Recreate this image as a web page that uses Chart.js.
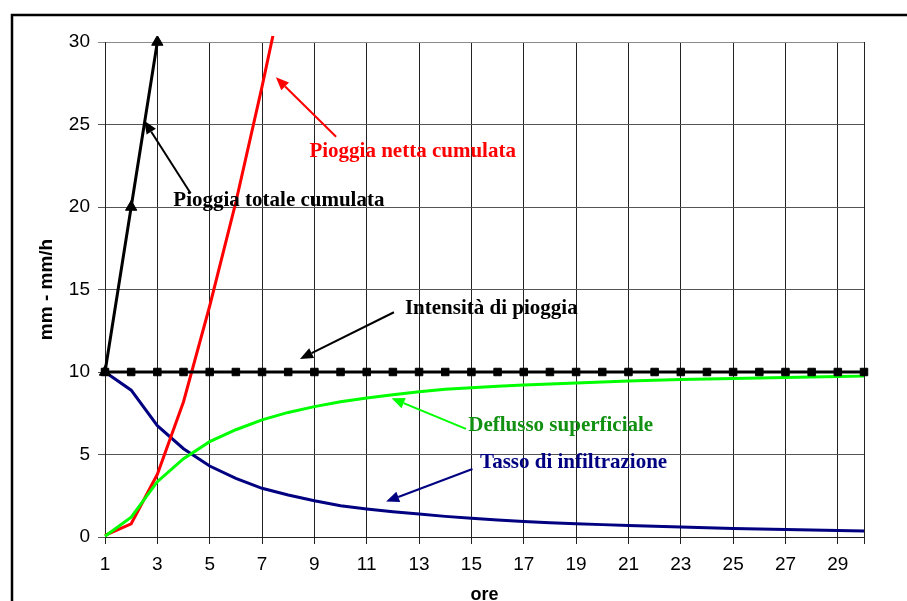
<!DOCTYPE html>
<html>
<head>
<meta charset="utf-8">
<script src="https://cdn.jsdelivr.net/npm/chart.js@4.4.1/dist/chart.umd.min.js"></script>
<style>
  html, body { margin:0; padding:0; background:#fff; }
  #wrap { width:907px; height:601px; overflow:hidden; }
</style>
</head>
<body>
<div id="wrap"><canvas id="chart" width="907" height="601"></canvas></div>
<script>
// ore (x categories)
const hours = ['1','2','3','4','5','6','7','8','9','10','11','12','13','14','15',
               '16','17','18','19','20','21','22','23','24','25','26','27','28','29','30'];

// mm/h
const intensita = [10,10,10,10,10,10,10,10,10,10,10,10,10,10,10,
                   10,10,10,10,10,10,10,10,10,10,10,10,10,10,10];
const infiltrazione = [10, 8.9, 6.75, 5.35, 4.3, 3.55, 2.95, 2.55, 2.2, 1.9,
                       1.7, 1.53, 1.39, 1.25, 1.13, 1.03, 0.94, 0.87, 0.81, 0.75,
                       0.69, 0.65, 0.6, 0.56, 0.52, 0.49, 0.46, 0.43, 0.4, 0.37];
const deflusso = [0.05, 1.2, 3.35, 4.75, 5.78, 6.5, 7.1, 7.55, 7.9, 8.2,
                  8.43, 8.62, 8.8, 8.95, 9.05, 9.14, 9.21, 9.28, 9.34, 9.4,
                  9.45, 9.5, 9.54, 9.57, 9.6, 9.64, 9.67, 9.7, 9.72, 9.75];
// mm
const pioggiaTotale = [10, 20, 30];
const pioggiaNetta = [0.1, 0.8, 3.8, 8.2, 14.0, 20.3, 27.3, 34.7];

// annotation labels: text + arrow, positions in (category index, value)
const notes = [
  { text:'Pioggia totale cumulata', color:'#000', arrow:'#000', at:[2.61, 20.06], from:[3.27, 20.83], to:[1.50, 25.23] },
  { text:'Pioggia netta cumulata', color:'#ff0000', arrow:'#ff0000', at:[7.81, 23.05], from:[8.83, 24.26], to:[6.53, 27.86] },
  { text:'Intensità di pioggia', color:'#000', arrow:'#000', at:[11.46, 13.5], from:[11.04, 13.62], to:[7.45, 10.79] },
  { text:'Deflusso superficiale', color:'#129012', arrow:'#00ff00', at:[13.88, 6.44], from:[13.79, 6.55], to:[10.95, 8.41] },
  { text:'Tasso di infiltrazione', color:'#000080', arrow:'#000080', at:[14.33, 4.16], from:[14.04, 4.12], to:[10.74, 2.15] }
];

const frame = {
  id:'frame',
  beforeDraw(chart){
    const c = chart.ctx;
    c.save();
    c.fillStyle = '#fff';
    c.fillRect(0, 0, chart.width, chart.height);
    c.strokeStyle = '#000'; c.lineWidth = 2.5;
    c.strokeRect(12, 15, 1200, 1200);
    c.restore();
  }
};

const notesPlugin = {
  id:'notes',
  afterDatasetsDraw(chart){
    const c = chart.ctx, x = chart.scales.x, y = chart.scales.y;
    const px = p => [x.getPixelForValue(p[0]), y.getPixelForValue(p[1])];
    c.save();
    notes.forEach(n => {
      const [x1, y1] = px(n.from), [x2, y2] = px(n.to);
      const ang = Math.atan2(y2 - y1, x2 - x1), L = 13, W = 5.5;
      const bx = x2 - L * Math.cos(ang), by = y2 - L * Math.sin(ang);
      c.strokeStyle = n.arrow; c.fillStyle = n.arrow; c.lineWidth = 2;
      c.beginPath(); c.moveTo(x1, y1); c.lineTo(bx, by); c.stroke();
      c.beginPath();
      c.moveTo(x2, y2);
      c.lineTo(bx + W * Math.sin(ang), by - W * Math.cos(ang));
      c.lineTo(bx - W * Math.sin(ang), by + W * Math.cos(ang));
      c.closePath(); c.fill();
      const [tx, ty] = px(n.at);
      c.font = 'bold 21px "Liberation Serif", "Times New Roman", serif';
      c.textBaseline = 'alphabetic'; c.textAlign = 'left';
      c.fillStyle = n.color;
      c.fillText(n.text, tx, ty);
    });
    c.restore();
  }
};

const line = (data, color, extra) => Object.assign({
  data, borderColor: color, backgroundColor: color, borderWidth: 3,
  pointRadius: 0, tension: 0, clip: 6
}, extra || {});

new Chart(document.getElementById('chart'), {
  type: 'line',
  data: {
    labels: hours,
    datasets: [
      line(intensita, '#000', { label:'Intensità di pioggia', pointStyle:'rect', pointRadius:5.3, pointBorderWidth:1 }),
      line(pioggiaTotale, '#000', { label:'Pioggia totale cumulata', pointStyle:'triangle', pointRadius:6.5, pointBorderWidth:1 }),
      line(deflusso, '#00ff00', { label:'Deflusso superficiale' }),
      line(pioggiaNetta, '#ff0000', { label:'Pioggia netta cumulata' }),
      line(infiltrazione, '#000080', { label:'Tasso di infiltrazione' })
    ]
  },
  options: {
    responsive: false,
    animation: false,
    devicePixelRatio: 1,
    layout: { padding: { left:0, top:42, right:43, bottom:0 } },
    plugins: { legend:{ display:false }, tooltip:{ enabled:false } },
    scales: {
      x: {
        offset: false,
        afterFit: s => { s.height = 64; },
        grid: {
          color: ctx => ctx.index === 29 ? '#8a8a8a' : '#222',
          tickLength: 7
        },
        border: { color:'#222' },
        ticks: {
          autoSkip: false, maxRotation: 0, padding: 9, color:'#000',
          font: { family:'"Liberation Sans", Arial, sans-serif', size:19 },
          callback: (v, i) => i === 29 ? '' : (i % 2 === 0 ? hours[i] : null)
        },
        title: {
          display: true, text: 'ore', color:'#000',
          font: { family:'"Liberation Sans", Arial, sans-serif', size:18, weight:'bold' },
          padding: { top:0, bottom:-5 }
        }
      },
      y: {
        min: 0, max: 30,
        afterFit: s => { s.width = 105; },
        grid: {
          color: ctx => ctx.tick && ctx.tick.value === 30 ? '#8a8a8a' : '#555',
          tickLength: 7
        },
        border: { color:'#222' },
        ticks: {
          stepSize: 5, padding: 8, color:'#000',
          font: { family:'"Liberation Sans", Arial, sans-serif', size:19 }
        },
        title: {
          display: true, text: 'mm - mm/h', color:'#000',
          font: { family:'"Liberation Sans", Arial, sans-serif', size:19, weight:'bold' },
          padding: { top:35, bottom:0 }
        }
      }
    }
  },
  plugins: [frame, notesPlugin]
});
</script>
</body>
</html>
